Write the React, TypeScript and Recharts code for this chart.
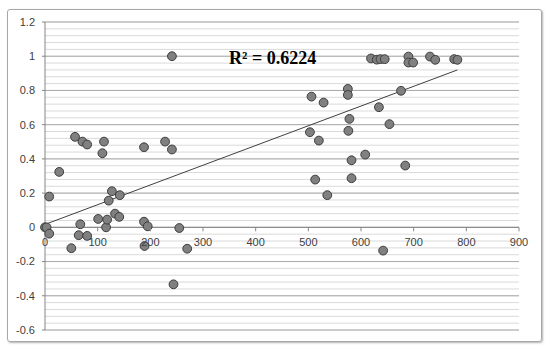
import {
  CartesianGrid,
  ReferenceLine,
  Scatter,
  ScatterChart,
  XAxis,
  YAxis,
} from "recharts";

const xValues = [
  0, 3, 8, 8, 27, 50, 57, 64, 67, 71, 80, 80, 101, 109, 112, 116, 118, 121,
  127, 133, 141, 142, 188, 188, 189, 195, 228, 241, 241, 244, 255, 270, 503,
  506, 513, 520, 529, 536, 575, 575, 576, 578, 582, 582, 608, 619, 630, 637,
  645, 634, 642, 654, 676, 684, 690, 690, 699, 731, 741, 777, 783,
];
const yValues = [
  0, 0, 0.18, -0.037, 0.324, -0.122, 0.529, -0.046, 0.018, 0.501, 0.484,
  -0.05, 0.049, 0.433, 0.501, 0.0, 0.045, 0.156, 0.211, 0.08, 0.061, 0.188,
  0.468, 0.033, -0.109, 0.006, 0.501, 0.455, 1.0, -0.333, -0.004, -0.125,
  0.556, 0.764, 0.279, 0.507, 0.729, 0.188, 0.809, 0.774, 0.564, 0.634, 0.392,
  0.287, 0.425, 0.987, 0.98, 0.983, 0.983, 0.702, -0.136, 0.603, 0.798, 0.361,
  0.998, 0.963, 0.963, 0.998, 0.979, 0.983, 0.979,
];
const xTicks = [0, 100, 200, 300, 400, 500, 600, 700, 800, 900];
const yTicks = [-0.6, -0.4, -0.2, 0, 0.2, 0.4, 0.6, 0.8, 1, 1.2];
// linear trendline
const trendIntercept = 0.017;
const trendSlope = 0.001153;
const r2Label = "R² = 0.6224";

const points = xValues.map((x, i) => ({ x, y: yValues[i] }));
const minorTicks = Array.from({ length: 46 }, (_, i) => -0.6 + i * 0.04);
const xMin = Math.min(...xValues);
const xMax = Math.max(...xValues);

const W = 550;
const H = 351;
const margin = { top: 22, right: 31, bottom: 1, left: 0 };
const axisH = 20;
const plotH = H - margin.top - margin.bottom - axisH;
const zeroShift = (plotH * 0.6) / 1.8;

const font = "'Liberation Sans', Arial, sans-serif";

const XTick = (props: any) => {
  const { x, y, payload } = props;
  const y0 = y - zeroShift;
  return (
    <g>
      <line x1={x} x2={x} y1={y0} y2={y0 + 4} stroke="#868686" />
      <text
        x={x}
        y={y0 + 15}
        dy="0.355em"
        textAnchor="middle"
        fontSize={11}
        fontFamily={font}
        fill="#404040"
      >
        {payload.value}
      </text>
    </g>
  );
};

const Dot = (props: any) => (
  <circle
    cx={props.cx}
    cy={props.cy}
    r={4.4}
    fill="#808080"
    stroke="#3c3c3c"
    strokeWidth={1}
  />
);

export default function App() {
  return (
    <div
      style={{
        position: "absolute",
        left: 0,
        top: 0,
        width: W,
        height: H,
        background: "#fff",
      }}
    >
      <div
        style={{
          position: "absolute",
          left: 7,
          top: 9,
          width: 533,
          height: 331,
          border: "1px solid #a8a8a8",
          borderRadius: 3,
          boxShadow: "1px 1px 2px rgba(0,0,0,0.3)",
        }}
      />
      <div style={{ position: "absolute", left: 0, top: 0 }}>
        <ScatterChart width={W} height={H} margin={margin}>
          <CartesianGrid
            vertical={false}
            horizontalValues={minorTicks}
            stroke="#dadada"
          />
          <CartesianGrid vertical={false} stroke="#ababab" />
          <XAxis
            type="number"
            dataKey="x"
            domain={[0, 900]}
            ticks={xTicks}
            height={axisH}
            axisLine={false}
            tickLine={false}
            tickSize={0}
            tickMargin={0}
            tick={<XTick />}
            interval={0}
          />
          <YAxis
            type="number"
            dataKey="y"
            domain={[-0.6, 1.2]}
            ticks={yTicks}
            width={45}
            interval={0}
            axisLine={{ stroke: "#868686" }}
            tickLine={{ stroke: "#868686" }}
            tickSize={3}
            tickMargin={7}
            tickFormatter={(v: number) => String(Math.round(v * 10) / 10)}
            tick={{ fontSize: 11, fontFamily: font, fill: "#404040" }}
          />
          <ReferenceLine y={0} stroke="#868686" />
          <ReferenceLine
            segment={[
              { x: xMin, y: trendIntercept + trendSlope * xMin },
              { x: xMax, y: trendIntercept + trendSlope * xMax },
            ]}
            stroke="#404040"
            strokeWidth={1}
          />
          <Scatter data={points} shape={<Dot />} isAnimationActive={false} />
        </ScatterChart>
      </div>
      <div
        style={{
          position: "absolute",
          left: 229,
          top: 49,
          fontFamily: "'Liberation Serif', 'Times New Roman', serif",
          fontWeight: "bold",
          fontSize: 18,
          lineHeight: "18px",
          whiteSpace: "nowrap",
          color: "#000",
        }}
      >
        {r2Label}
      </div>
    </div>
  );
}
